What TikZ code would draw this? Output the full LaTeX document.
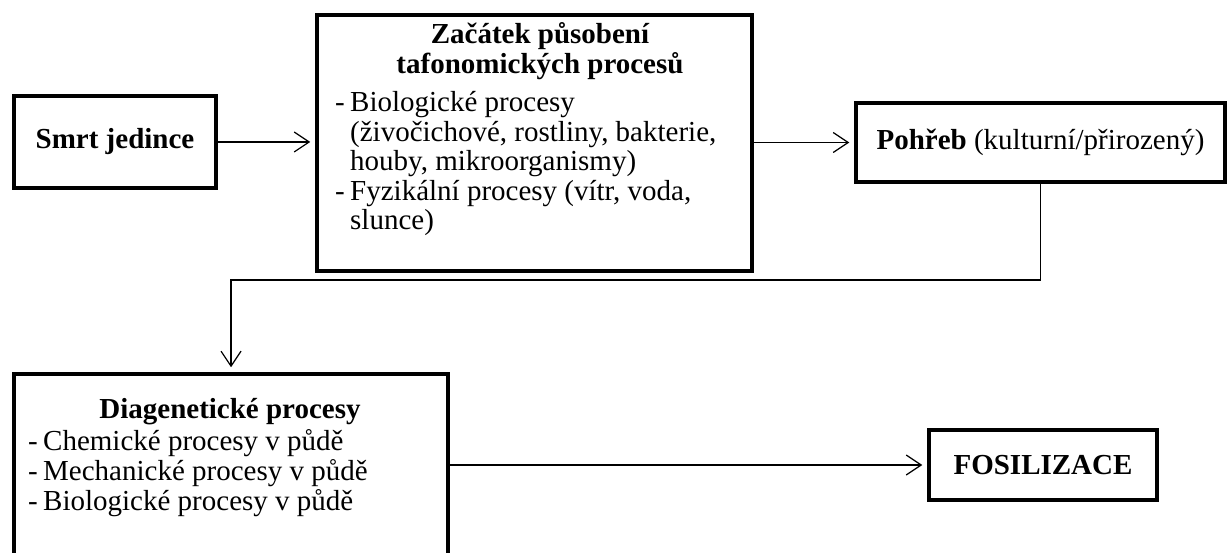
\documentclass[tikz,border=0pt]{standalone}
\usepackage{fontspec}
\setmainfont{Liberation Serif}
\usetikzlibrary{arrows.meta}
\begin{document}
\begin{tikzpicture}[x=1pt,y=-1pt,
  box/.style={draw, line width=3.5pt, rectangle, inner sep=0pt, font=\fontsize{29}{30}\selectfont},
  txt/.style={inner sep=0pt, anchor=base west, font=\fontsize{29}{30}\selectfont},
  ttl/.style={inner sep=0pt, anchor=base, font=\fontsize{29}{30}\selectfont\bfseries},
  conn/.style={line width=1.2pt, -{Straight Barb[length=15pt,width=20pt]}, shorten >=5pt},
]
\useasboundingbox (0,0) rectangle (1232,553);
\node[box, minimum width=202pt, minimum height=92pt] (smrt) at (115,142) {\bfseries Smrt jedince};
\node[box, minimum width=435pt, minimum height=256pt] (mid) at (534.5,143) {};
\node[box, minimum width=369pt, minimum height=79pt] (pohreb) at (1040.5,142.5) {\textbf{Pohřeb} (kulturní/přirozený)};
\node[box, minimum width=228pt, minimum height=70pt] (fos) at (1043,465) {\bfseries FOSILIZACE};
\node[box, minimum width=434pt, minimum height=184pt] (diag) at (231,466) {};
% middle box text
\node[ttl] (t1) at (540,44) {Začátek působení};
\node[ttl] (t2) at (540,74) {tafonomických procesů};
\node[txt] (d1) at (335,112) {-};
\node[txt] (l1) at (350,112) {Biologické procesy};
\node[txt] (l2) at (350,141.5) {(živočichové, rostliny, bakterie,};
\node[txt] (l3) at (350,171) {houby, mikroorganismy)};
\node[txt] (d2) at (335,200.5) {-};
\node[txt] (l4) at (350,200.5) {Fyzikální procesy (vítr, voda,};
\node[txt] (l5) at (350,230) {slunce)};
% diag box text
\node[ttl] (t3) at (230,418) {Diagenetické procesy};
\node[txt] (d3) at (28,450) {-};
\node[txt] (m1) at (43,450) {Chemické procesy v půdě};
\node[txt] (d4) at (28,480) {-};
\node[txt] (m2) at (43,480) {Mechanické procesy v půdě};
\node[txt] (d5) at (28,510) {-};
\node[txt] (m3) at (43,510) {Biologické procesy v půdě};
% connectors
\draw[conn] (smrt.east) -- (smrt.east -| mid.west);
\draw[conn] (mid.east |- pohreb.west) -- (pohreb.west);
\draw[conn] (pohreb.south) -- (pohreb.south |- 0,280) -- (diag.north |- 0,280) -- (diag.north);
\draw[conn] (diag.east |- fos.west) -- (fos.west);
\end{tikzpicture}
\end{document}
